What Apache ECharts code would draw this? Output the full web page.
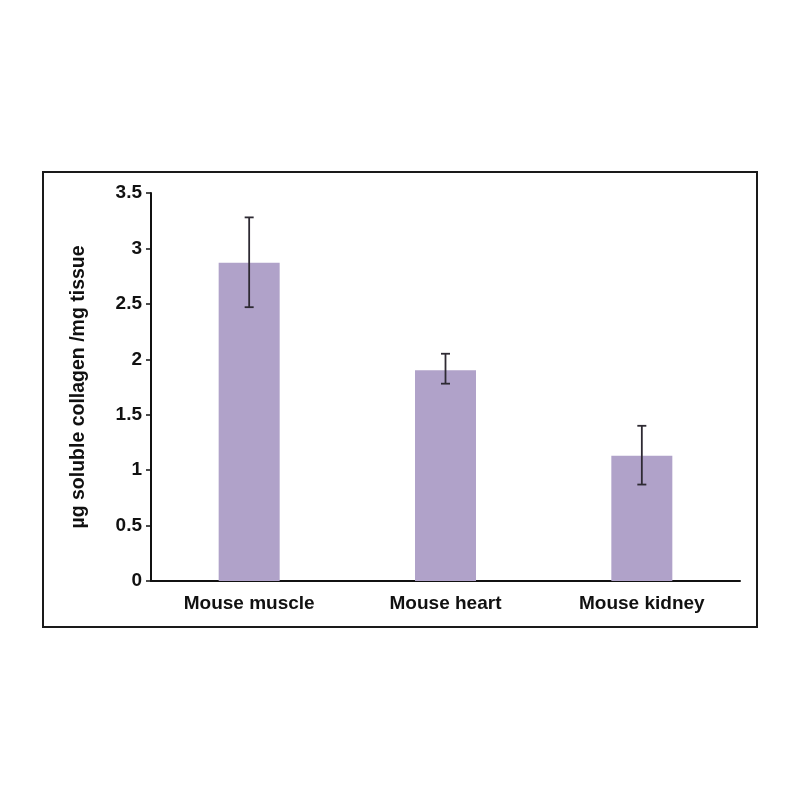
<!DOCTYPE html>
<html>
<head>
<meta charset="utf-8">
<script src="https://cdn.jsdelivr.net/npm/echarts@6/dist/echarts.min.js"></script>
<style>
  html, body { margin: 0; padding: 0; background: #fff; }
  #chart { width: 800px; height: 800px; }
</style>
</head>
<body>
<div id="chart"></div>
<script>
// datos
const categorias = ['Mouse muscle', 'Mouse heart', 'Mouse kidney'];
const valores = [2.87, 1.90, 1.13];
const errorBajo = [2.47, 1.78, 0.87];
const errorAlto = [3.28, 2.05, 1.40];
const ticksY = ['0', '0.5', '1', '1.5', '2', '2.5', '3', '3.5'];

const fuente = '"Liberation Sans", Arial, sans-serif';
const contenedor = document.getElementById('chart');
const miGrafico = echarts.init(contenedor);

const datosError = categorias.map((c, i) => [i, errorBajo[i], errorAlto[i]]);

const opciones = {
  animation: false,
  backgroundColor: '#fff',
  graphic: [{
    type: 'rect',
    shape: { x: 43, y: 172, width: 714, height: 455 },
    style: { fill: 'none', stroke: '#1a1a1a', lineWidth: 2 },
    silent: true
  }],
  grid: { left: 151, right: 60, top: 193, bottom: 219 },
  xAxis: {
    type: 'category',
    data: categorias,
    axisLine: { lineStyle: { color: '#111', width: 2 } },
    axisTick: { show: false },
    axisLabel: {
      color: '#111', fontFamily: fuente, fontWeight: 'bold', fontSize: 19, margin: 13
    }
  },
  yAxis: {
    type: 'value',
    min: 0,
    max: 3.5,
    interval: 0.5,
    name: 'µg soluble collagen /mg tissue',
    nameLocation: 'middle',
    nameGap: 62,
    nameTextStyle: {
      color: '#111', fontFamily: fuente, fontWeight: 'bold', fontSize: 19.5
    },
    splitLine: { show: false },
    axisLine: { show: true, lineStyle: { color: '#111', width: 2 } },
    axisTick: { show: true, length: 5, lineStyle: { color: '#111', width: 1.5 } },
    axisLabel: {
      color: '#111', fontFamily: fuente, fontWeight: 'bold', fontSize: 19, margin: 9,
      formatter: (v) => ticksY[Math.round(v / 0.5)]
    }
  },
  series: [
    {
      type: 'bar',
      data: valores,
      barWidth: 61,
      itemStyle: { color: '#b0a2c9' }
    },
    {
      type: 'custom',
      data: datosError,
      z: 10,
      renderItem: function (params, api) {
        const x = api.value(0);
        const abajo = api.coord([x, api.value(1)]);
        const arriba = api.coord([x, api.value(2)]);
        const mitad = 4.5;
        const estilo = { stroke: '#2e2a33', lineWidth: 1.8 };
        return {
          type: 'group',
          children: [
            { type: 'line', shape: { x1: arriba[0], y1: arriba[1], x2: abajo[0], y2: abajo[1] }, style: estilo },
            { type: 'line', shape: { x1: arriba[0] - mitad, y1: arriba[1], x2: arriba[0] + mitad, y2: arriba[1] }, style: estilo },
            { type: 'line', shape: { x1: abajo[0] - mitad, y1: abajo[1], x2: abajo[0] + mitad, y2: abajo[1] }, style: estilo }
          ]
        };
      }
    }
  ]
};

miGrafico.setOption(opciones);
</script>
</body>
</html>
